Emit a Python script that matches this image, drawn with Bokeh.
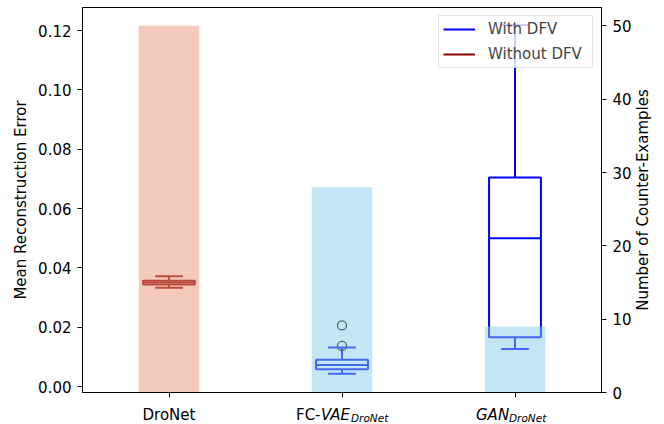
import math
from bokeh.plotting import figure
from bokeh.layouts import column, row
from bokeh.models import (Range1d, LinearAxis, FixedTicker, Legend, LegendItem,
                          ColumnDataSource, NumeralTickFormatter)
from bokeh.core.properties import value
from bokeh.embed import file_html
from bokeh.resources import INLINE

# ---------------- data ----------------
categories = ["DroNet", "FC-VAE_DroNet", "GAN_DroNet"]
positions = [0, 1, 2]
counter_examples = [50, 28, 9]           # bars, right axis
whisker_low = [0.0333, 0.0043, 0.0127]   # boxplots, left axis
q1 = [0.0344, 0.0058, 0.0166]
median = [0.0351, 0.0073, 0.0500]
q3 = [0.0357, 0.0090, 0.0705]
whisker_high = [0.0372, 0.0132, 0.1219]
outlier_x = [1, 1]
outlier_y = [0.0137, 0.0206]
box_colors = ["darkred", "blue", "blue"]
bar_colors = ["darksalmon", "skyblue", "skyblue"]
left_ticks = [0.0, 0.02, 0.04, 0.06, 0.08, 0.10, 0.12]
right_ticks = [0, 10, 20, 30, 40, 50]
left_label = "Mean Reconstruction Error"
right_label = "Number of Counter-Examples"
# tick-label pieces: (category index, text, style, is_subscript)
label_parts = [
    (0, "DroNet", "normal", False),
    (1, "FC-", "normal", False),
    (1, "VAE", "italic", False),
    (1, "DroNet", "italic", True),
    (2, "GAN", "italic", False),
    (2, "DroNet", "italic", True),
]

FONT = "DejaVu Sans"
FS = "15px"
LEFT_B, RIGHT_B = 82, 30
FW, FH = 519, 385
TOP_B, BOT_B = 7, 10
H2 = 22
W3 = 33

p = figure(frame_width=FW, frame_height=FH, title=None,
           x_range=Range1d(-0.5, 2.5), y_range=Range1d(-0.0020, 0.1278),
           output_backend="svg", toolbar_location=None,
           min_border_left=LEFT_B, min_border_right=RIGHT_B,
           min_border_top=TOP_B, min_border_bottom=BOT_B)
p.extra_y_ranges = {"count": Range1d(0, 52.5)}
p.grid.visible = False
p.outline_line_color = "black"
p.outline_line_alpha = 1

# ---------------- boxplots ----------------
bw = 0.15
cw = 0.08
src = ColumnDataSource(dict(
    x=positions,
    left=[x - bw for x in positions], right=[x + bw for x in positions],
    cl=[x - cw for x in positions], cr=[x + cw for x in positions],
    lo=whisker_low, q1=q1, med=median, q3=q3, hi=whisker_high, color=box_colors))

p.quad(left="left", right="right", bottom="q1", top="q3", source=src,
       fill_color=None, line_color="color", line_width=2)
p.segment(x0="left", x1="right", y0="med", y1="med", source=src, line_color="color", line_width=2)
r_wh = p.segment(x0="x", x1="x", y0="q3", y1="hi", source=src, line_color="color", line_width=2)
p.segment(x0="x", x1="x", y0="q1", y1="lo", source=src, line_color="color", line_width=2)
p.segment(x0="cl", x1="cr", y0="hi", y1="hi", source=src, line_color="color", line_width=2)
p.segment(x0="cl", x1="cr", y0="lo", y1="lo", source=src, line_color="color", line_width=2)
p.scatter(outlier_x, outlier_y, marker="circle", size=9, fill_color=None,
          line_color="black", line_width=1.3)

# ---------------- bars (drawn on top, translucent) ----------------
p.vbar(x=positions, top=counter_examples, bottom=0, width=0.35, fill_color=bar_colors,
       fill_alpha=0.5, line_color=None, y_range_name="count")

# ---------------- axes ----------------
p.yaxis.ticker = FixedTicker(ticks=left_ticks)
p.yaxis.formatter = NumeralTickFormatter(format="0.00")
p.yaxis.axis_label = left_label
p.yaxis.axis_label_standoff = 5

right = LinearAxis(y_range_name="count", ticker=FixedTicker(ticks=right_ticks))
p.add_layout(right, "right")

p.xaxis.ticker = FixedTicker(ticks=positions)
p.xaxis.major_label_overrides = {0: "", 1: "", 2: ""}
p.xaxis.major_label_text_font_size = "0px"
p.xaxis.major_label_standoff = 0

for ax in p.axis:
    ax.minor_tick_line_color = None
    ax.major_tick_in = 0
    ax.major_tick_out = 5
    ax.major_tick_line_color = "black"
    ax.axis_line_color = "black"
    ax.major_label_text_font = FONT
    ax.axis_label_text_font = FONT
    ax.axis_label_text_font_size = FS
    ax.axis_label_text_font_style = "normal"
    ax.axis_label_text_color = "black"
    ax.major_label_text_color = "black"
p.yaxis[0].major_label_text_font_size = FS
right.major_label_text_font_size = FS
p.yaxis[0].major_label_standoff = 6
right.major_label_standoff = 6

# ---------------- legend ----------------
legend = Legend(items=[LegendItem(label="With DFV", renderers=[r_wh], index=2),
                       LegendItem(label="Without DFV", renderers=[r_wh], index=0)],
                location="top_right", margin=8, padding=4, spacing=7,
                glyph_width=32, glyph_height=18, label_height=18, label_width=100,
                label_standoff=13,
                label_text_font=FONT, label_text_font_size=FS,
                border_line_color="#cccccc", border_line_width=1,
                background_fill_color="white", background_fill_alpha=0.8)
p.add_layout(legend)

# ---------------- x tick labels (italic + subscript) in a strip below ----------------
p2 = figure(frame_width=FW, frame_height=H2, title=None, x_range=p.x_range,
            y_range=Range1d(0, H2), output_backend="svg", toolbar_location=None,
            x_axis_location=None, y_axis_location=None,
            min_border_left=LEFT_B, min_border_right=RIGHT_B, min_border_top=0, min_border_bottom=0)
p2.grid.visible = False
p2.outline_line_color = None

x_offsets = [-26.5, -46, -21, 9, -39, -6]
lx = [positions[c] for c, _, _, _ in label_parts]
ltext = [t for _, t, _, _ in label_parts]
lstyle = [s for _, _, s, _ in label_parts]
lsize = ["10.5px" if sub else FS for _, _, _, sub in label_parts]
ly_off = [3 if sub else 0 for _, _, _, sub in label_parts]
p2.text(x=lx, y=[10] * len(lx), text=ltext, x_offset=x_offsets, y_offset=ly_off,
        text_font=value(FONT), text_font_style=lstyle, text_font_size=lsize,
        text_align="left", text_baseline="alphabetic", text_color="black")

# ---------------- right axis title (reads bottom-to-top) in a strip at the right ----------------
H_ALL = TOP_B + FH + BOT_B + H2
p3 = figure(frame_width=W3, frame_height=H_ALL, title=None,
            x_range=Range1d(0, W3), y_range=Range1d(0, H_ALL),
            output_backend="svg", toolbar_location=None,
            x_axis_location=None, y_axis_location=None,
            min_border_left=0, min_border_right=0, min_border_top=0, min_border_bottom=0)
p3.grid.visible = False
p3.outline_line_color = None
p3.text(x=[8], y=[H_ALL - (TOP_B + FH / 2)], text=[right_label], angle=math.pi / 2,
        text_font=value(FONT), text_font_size=FS, text_align="center",
        text_baseline="middle", text_color="black")

layout = row(column(p, p2, spacing=0), p3, spacing=0)
open("out.html", "w").write(file_html(layout, INLINE))
